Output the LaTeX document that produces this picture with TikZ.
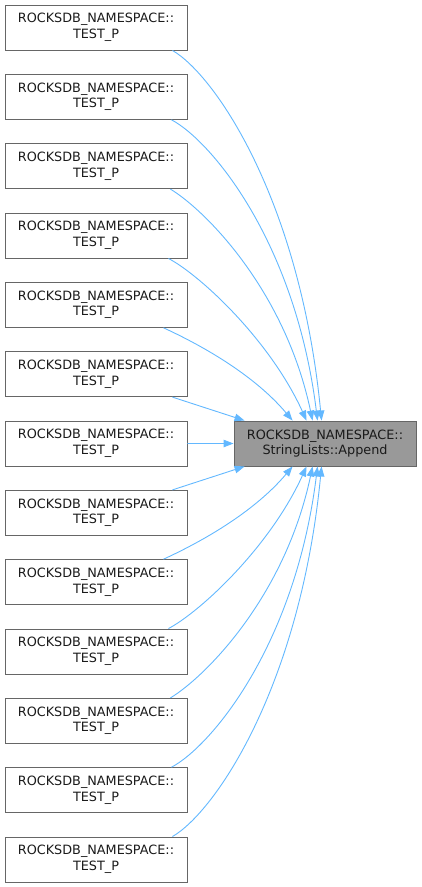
\documentclass[tikz,border=0pt]{standalone}
\usepackage{fontspec}
\setmainfont{DejaVu Sans}
\usetikzlibrary{arrows.meta}
\definecolor{edgeblue}{HTML}{63B8FF}
\definecolor{nodeborder}{HTML}{666666}
\definecolor{targetfill}{HTML}{999999}
\definecolor{textcol}{HTML}{1A1A1A}
\begin{document}
\begin{tikzpicture}[x=1pt,y=-1pt,
  every node/.style={font=\fontsize{12.8}{15.5}\selectfont, text=textcol},
  caller/.style={draw=nodeborder, line width=0.9pt, minimum width=182pt, minimum height=45pt, inner sep=0pt, align=center},
  target/.style={caller, fill=targetfill},
  edge/.style={draw=edgeblue, line width=0.9pt, -{Triangle[length=10pt,width=7.5pt]}}]
\useasboundingbox (0,0) rectangle (421,887);
\foreach \i in {0,...,12}
  \node[caller] (n\i) at (96,{27.5+69.333*\i}) {ROCKSDB\_NAMESPACE::\\TEST\_P};
\node[target] (t) at (325,443.5) {ROCKSDB\_NAMESPACE::\\StringLists::Append};
% upper callers
\draw[edge] ([xshift=-15pt]n0.south east) .. controls (215,75) and (300,200) .. ([xshift=88pt]t.north west);
\draw[edge] ([xshift=-16pt]n1.south east) .. controls (210,140) and (295,240) .. ([xshift=84pt]t.north west);
\draw[edge] ([xshift=-17pt]n2.south east) .. controls (205,210) and (285,290) .. ([xshift=79pt]t.north west);
\draw[edge] ([xshift=-19pt]n3.south east) .. controls (200,275) and (270,340) .. ([xshift=73pt]t.north west);
\draw[edge] ([xshift=-24pt]n4.south east) .. controls (190,340) and (250,370) .. ([xshift=59pt]t.north west);
\draw[edge] ([xshift=-15pt]n5.south east) -- ([xshift=11pt]t.north west);
\draw[edge] (n6.east) -- (t.west);
% lower callers
\draw[edge] ([xshift=-15pt]n7.north east) -- ([xshift=11pt]t.south west);
\draw[edge] ([xshift=-24pt]n8.north east) .. controls (190,547) and (250,517) .. ([xshift=59pt]t.south west);
\draw[edge] ([xshift=-19pt]n9.north east) .. controls (200,612) and (270,547) .. ([xshift=73pt]t.south west);
\draw[edge] ([xshift=-17pt]n10.north east) .. controls (205,677) and (285,597) .. ([xshift=79pt]t.south west);
\draw[edge] ([xshift=-16pt]n11.north east) .. controls (210,747) and (295,647) .. ([xshift=84pt]t.south west);
\draw[edge] ([xshift=-15pt]n12.north east) .. controls (215,812) and (300,687) .. ([xshift=88pt]t.south west);
\end{tikzpicture}
\end{document}
